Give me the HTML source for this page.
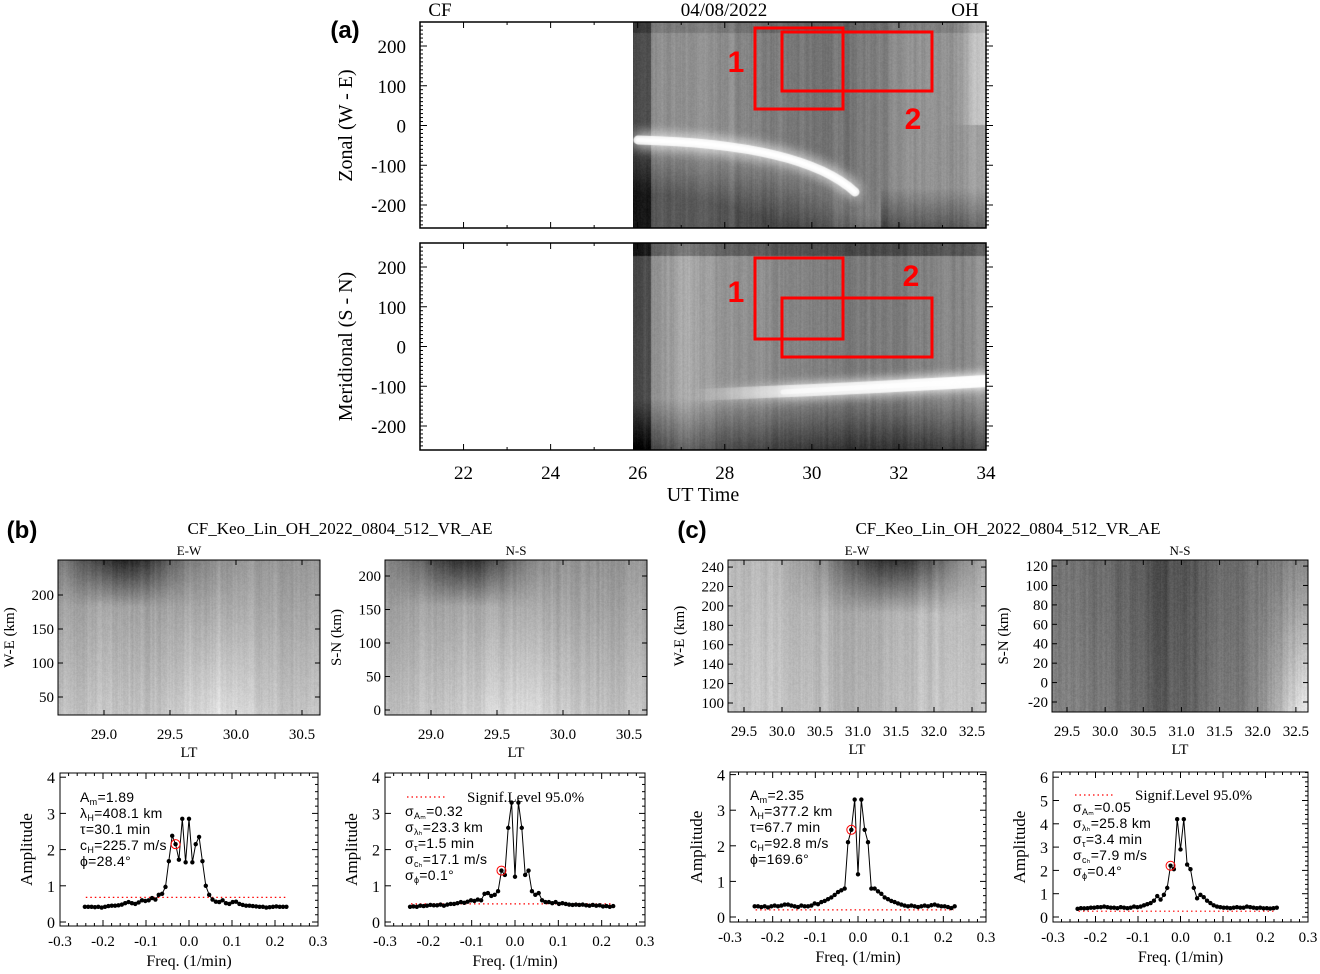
<!DOCTYPE html>
<html><head><meta charset="utf-8">
<style>
html,body{margin:0;padding:0;background:#fff;}
#wrap{position:relative;width:1320px;height:974px;overflow:hidden;}
canvas{position:absolute;}
svg{position:absolute;left:0;top:0;}
text{font-family:"Liberation Serif",serif;fill:#000;}
.sans{font-family:"Liberation Sans",sans-serif;}
</style></head>
<body>
<div id="wrap">
<canvas id="ka" width="353" height="206" style="left:633px;top:22px"></canvas>
<canvas id="kb" width="353" height="207" style="left:633px;top:243px"></canvas>
<canvas id="k1" width="262" height="155" style="left:58px;top:560px"></canvas>
<canvas id="k2" width="262" height="155" style="left:385px;top:560px"></canvas>
<canvas id="k3" width="258" height="152" style="left:728px;top:560px"></canvas>
<canvas id="k4" width="256" height="152" style="left:1052px;top:560px"></canvas>
<svg id="svg" width="1320" height="974" xmlns="http://www.w3.org/2000/svg"></svg>
</div>
<script>
// ---- spectrum data (freq grid k/128, k=-31..29) ----
const freqK = [];
for (let k = -31; k <= 29; k++) freqK.push(k);
const ampBLeft = [0.42,0.42,0.42,0.41,0.42,0.40,0.42,0.44,0.45,0.45,0.46,0.48,0.52,0.55,0.52,0.50,0.54,0.60,0.58,0.60,0.66,0.62,0.75,0.78,0.97,
 1.68,2.38,2.15,1.72,2.85,1.65,2.85,1.65,2.15,2.35,1.68,1.0,0.75,
 0.62,0.56,0.55,0.60,0.52,0.50,0.55,0.56,0.50,0.47,0.45,0.45,0.44,0.43,0.42,0.42,0.40,0.41,0.42,0.43,0.42,0.42,0.42];
const ampBRight = [0.42,0.43,0.42,0.45,0.44,0.45,0.47,0.46,0.46,0.48,0.45,0.48,0.50,0.50,0.52,0.55,0.53,0.56,0.60,0.58,0.62,0.60,0.78,0.80,0.72,0.75,
 0.85,1.42,1.30,2.60,3.30,1.25,3.30,2.60,1.30,1.42,0.85,
 0.75,0.80,0.60,0.55,0.55,0.52,0.55,0.50,0.52,0.50,0.48,0.47,0.48,0.47,0.48,0.46,0.45,0.47,0.45,0.46,0.43,0.44,0.42,0.44];
const ampCLeft = [0.3,0.3,0.28,0.3,0.27,0.3,0.32,0.3,0.32,0.35,0.35,0.32,0.3,0.28,0.32,0.3,0.3,0.32,0.38,0.36,0.42,0.45,0.5,0.55,0.62,0.7,0.75,
 0.8,2.1,2.45,3.3,1.2,3.3,2.45,2.1,0.8,
 0.8,0.72,0.65,0.55,0.5,0.45,0.42,0.38,0.35,0.32,0.3,0.32,0.3,0.28,0.3,0.32,0.3,0.33,0.35,0.32,0.3,0.3,0.28,0.25,0.3];
const ampCRight = [0.35,0.38,0.37,0.38,0.4,0.4,0.42,0.42,0.45,0.42,0.4,0.4,0.38,0.42,0.4,0.38,0.4,0.45,0.42,0.45,0.5,0.55,0.6,0.7,0.9,0.75,0.95,
 1.25,2.2,2.05,4.2,2.9,4.2,2.25,2.05,1.25,
 0.8,0.95,0.85,0.7,0.6,0.5,0.45,0.42,0.4,0.4,0.38,0.4,0.42,0.4,0.4,0.45,0.42,0.4,0.38,0.4,0.37,0.38,0.36,0.38,0.4];
const sigLevels = [0.68, 0.5, 0.2, 0.25];
const freqTicks = [-0.3,-0.2,-0.1,0.0,0.1,0.2,0.3];
const freqTickLabels = ["-0.3","-0.2","-0.1","0.0","0.1","0.2","0.3"];

const NS = "http://www.w3.org/2000/svg";
const svg = document.getElementById('svg');
function el(tag, attrs, parent, txt) {
  const e = document.createElementNS(NS, tag);
  for (const k in attrs) e.setAttribute(k, attrs[k]);
  if (txt !== undefined) e.textContent = txt;
  (parent || svg).appendChild(e);
  return e;
}
function txt(x, y, s, size, anchor, name, extra) {
  const t = el('text', Object.assign({x: x, y: y, 'font-size': size, 'text-anchor': anchor || 'middle'}, extra || {}), svg, s);
  
  
  return t;
}

// ---------- Panel (a) ----------
const hrTicks = [22,24,26,28,30,32,34];
const kmTicks = [200,100,0,-100,-200];
function ax(h) { return 420 + (h - 21) * (566 / 13); }
function panelA(top, bot, zeroY, label, name) {
  const g = el('g', {});
  
  
  const sc = 0.3975;
  el('rect', {x: 420, y: top, width: 566, height: bot - top, fill: 'none', stroke: '#000', 'stroke-width': 1.5}, g);
  for (let h = 21; h <= 34; h += 1) {
    const x = ax(h), big = (h % 2 === 0) ? 6 : 3;
    el('line', {x1: x, y1: bot, x2: x, y2: bot - big, stroke: '#000'}, g);
    el('line', {x1: x, y1: top, x2: x, y2: top + big, stroke: '#000'}, g);
  }
  for (let v = -250; v <= 250; v += 10) {
    const y = zeroY - v * sc;
    if (y < top || y > bot) continue;
    const big = v % 100 === 0 ? 7 : 3;
    el('line', {x1: 420, y1: y, x2: 420 + big, y2: y, stroke: '#000'}, g);
    el('line', {x1: 986, y1: y, x2: 986 + big, y2: y, stroke: '#000'}, g);
  }
  kmTicks.forEach(v => {
    txt(406, zeroY - v * sc + 7, String(v), 19, 'end', 'y-tick-label');
  });
  txt(0, 0, label, 20, 'middle', 'y-axis-title', {transform: 'translate(352,' + zeroY + ') rotate(-90)'});
}
panelA(22, 228, 125.5, 'Zonal (W - E)', 'zonal-panel');
panelA(243, 450, 346.5, 'Meridional (S - N)', 'meridional-panel');
hrTicks.forEach((h, i) => txt(ax(h), 479, String(h), 19, 'middle', 'x-tick-label'));
txt(703, 501, 'UT Time', 20, 'middle', 'x-axis-title');
txt(440, 16, 'CF', 19, 'middle', 'header-cf');
txt(724, 16, '04/08/2022', 19, 'middle', 'header-date');
txt(965, 16, 'OH', 19, 'middle', 'header-oh');
txt(345, 38, '(a)', 24, 'middle', 'panel-label-a', {'font-weight': 'bold', 'class': 'sans'});
txt(22, 538, '(b)', 24, 'middle', 'panel-label-b', {'font-weight': 'bold', 'class': 'sans'});
txt(692, 538, '(c)', 24, 'middle', 'panel-label-c', {'font-weight': 'bold', 'class': 'sans'});

function rbox(x, y, w, h, name) {
  const r = el('rect', {x: x, y: y, width: w, height: h, fill: 'none', stroke: '#f00', 'stroke-width': 3});
  
  
}
rbox(755, 28, 88, 81, 'region-box-1-zonal');
rbox(782, 32, 150, 59, 'region-box-2-zonal');
rbox(755, 258, 88, 81, 'region-box-1-meridional');
rbox(782, 298, 150, 59, 'region-box-2-meridional');
[[736,72,'1'],[913,129,'2'],[736,302,'1'],[911,286,'2']].forEach(a => {
  txt(a[0], a[1], a[2], 30, 'middle', 'region-label', {'class': 'sans', 'font-weight': 'bold', style: 'fill:#f00'});
});

// ---------- keogram axes ----------
function keoAxes(x0, y0, x1, y1, xt, xl, x2px, yt, y2px, ylab, top, name) {
  const g = el('g', {});
  
  
  el('rect', {x: x0, y: y0, width: x1 - x0, height: y1 - y0, fill: 'none', stroke: '#000', 'stroke-width': 1}, g);
  xt.forEach((v, i) => {
    const x = x2px(v);
    el('line', {x1: x, y1: y1, x2: x, y2: y1 - 5, stroke: '#000'}, g);
    el('line', {x1: x, y1: y0, x2: x, y2: y0 + 5, stroke: '#000'}, g);
    txt(x, y1 + 24, xl[i], 15, 'middle', 'x-tick-label');
  });
  yt.forEach(v => {
    const y = y2px(v);
    el('line', {x1: x0, y1: y, x2: x0 + 5, y2: y, stroke: '#000'}, g);
    el('line', {x1: x1, y1: y, x2: x1 - 5, y2: y, stroke: '#000'}, g);
    txt(x0 - 4, y + 5, String(v), 15, 'end', 'y-tick-label');
  });
  txt((x0 + x1) / 2, y1 + 42, 'LT', 15, 'middle', 'x-axis-title');
  txt((x0 + x1) / 2, y0 - 5, top, 13, 'middle', 'keogram-title');
  txt(0, 0, ylab, 15, 'middle', 'y-axis-title', {transform: 'translate(' + (x0 - 44) + ',' + ((y0 + y1) / 2) + ') rotate(-90)'});
}
const ltB = [29.0, 29.5, 30.0, 30.5], ltBL = ['29.0','29.5','30.0','30.5'];
const ltC = [29.5,30.0,30.5,31.0,31.5,32.0,32.5], ltCL = ['29.5','30.0','30.5','31.0','31.5','32.0','32.5'];
keoAxes(58, 560, 320, 715, ltB, ltBL, v => 104 + (v - 29) * 132, [200,150,100,50], v => 663 - (v - 100) * 0.68, 'W-E (km)', 'E-W', 'keo-b-ew');
keoAxes(385, 560, 647, 715, ltB, ltBL, v => 431 + (v - 29) * 132, [200,150,100,50,0], v => 710 - v * 0.67, 'S-N (km)', 'N-S', 'keo-b-ns');
keoAxes(728, 560, 986, 712, ltC, ltCL, v => 744 + (v - 29.5) * 76, [240,220,200,180,160,140,120,100], v => 703 - (v - 100) * 0.971, 'W-E (km)', 'E-W', 'keo-c-ew');
keoAxes(1052, 560, 1308, 712, ltC, ltCL, v => 1067 + (v - 29.5) * 76.3, [120,100,80,60,40,20,0,-20], v => 702 - (v + 20) * 0.971, 'S-N (km)', 'N-S', 'keo-c-ns');
txt(340, 534, 'CF_Keo_Lin_OH_2022_0804_512_VR_AE', 17, 'middle', 'title-b');
txt(1008, 534, 'CF_Keo_Lin_OH_2022_0804_512_VR_AE', 17, 'middle', 'title-c');

// ---------- spectrum plots ----------
function spectrum(cfg) {
  const g = el('g', {});
  
  
  const fx = f => cfg.x0 + (f + 0.3) / 0.6 * (cfg.x1 - cfg.x0);
  const fy = a => cfg.zeroY - a * cfg.pxPerUnit;
  el('rect', {x: cfg.x0, y: cfg.y0, width: cfg.x1 - cfg.x0, height: cfg.y1 - cfg.y0, fill: 'none', stroke: '#000', 'stroke-width': 1}, g);
  for (let f = -0.3; f <= 0.301; f += 0.02) {
    const x = fx(f), big = Math.abs(Math.round(f * 100)) % 10 === 0 ? 6 : 3;
    el('line', {x1: x, y1: cfg.y1, x2: x, y2: cfg.y1 - big, stroke: '#000'}, g);
    el('line', {x1: x, y1: cfg.y0, x2: x, y2: cfg.y0 + big, stroke: '#000'}, g);
  }
  freqTicks.forEach((f, i) => txt(fx(f), cfg.y1 + 20, freqTickLabels[i], 15, 'middle', 'x-tick-label'));
  for (let v = 0; v <= cfg.ymax; v++) {
    const y = fy(v);
    el('line', {x1: cfg.x0, y1: y, x2: cfg.x0 + 6, y2: y, stroke: '#000'}, g);
    el('line', {x1: cfg.x1, y1: y, x2: cfg.x1 - 6, y2: y, stroke: '#000'}, g);
    for (let m = 0.2; m < 1; m += 0.2) {
      const ym = fy(v + m);
      if (ym < cfg.y0) break;
      el('line', {x1: cfg.x1, y1: ym, x2: cfg.x1 - 3, y2: ym, stroke: '#000'}, g);
    }
    txt(cfg.x0 - 5, y + 6, String(v), 16, 'end', 'y-tick-label');
  }
  txt(fx(0), cfg.y1 + 40, 'Freq. (1/min)', 16, 'middle', 'x-axis-title');
  txt(0, 0, 'Amplitude', 17, 'middle', 'y-axis-title', {transform: 'translate(' + (cfg.x0 - 28) + ',' + ((cfg.y0 + cfg.y1) / 2) + ') rotate(-90)'});
  const sl = el('line', {x1: fx(-0.24), x2: fx(0.225), y1: fy(cfg.sig), y2: fy(cfg.sig), stroke: '#f00', 'stroke-width': 1.2, 'stroke-dasharray': '1.5,3'}, g);
  
  
  let d = '';
  cfg.amps.forEach((a, i) => { d += (i ? 'L' : 'M') + fx(freqK[i] / 128).toFixed(1) + ',' + fy(a).toFixed(1); });
  const ln = el('path', {d: d, fill: 'none', stroke: '#000', 'stroke-width': 1}, g);
  
  
  cfg.amps.forEach((a, i) => {
    const c = el('circle', {cx: fx(freqK[i] / 128), cy: fy(a), r: 2.2, fill: '#000'}, g);
    
    
  });
  const ci = cfg.circ;
  const rc = el('circle', {cx: fx(freqK[ci] / 128), cy: fy(cfg.amps[ci]), r: 4.5, fill: 'none', stroke: '#f00', 'stroke-width': 1}, g);
  
  
  if (cfg.legend) {
    const lg = el('line', {x1: cfg.x0 + 22, x2: cfg.x0 + 62, y1: cfg.legY, y2: cfg.legY, stroke: '#f00', 'stroke-width': 1.2, 'stroke-dasharray': '1.5,3'}, g);
    
    
    txt(cfg.x0 + 82, cfg.legY + 5, 'Signif.Level 95.0%', 15, 'start', 'legend-text');
  }
  cfg.lines.forEach((ln2, i) => {
    const t = el('text', {x: cfg.x0 + 20, y: cfg.textY + i * 16, 'font-size': 14, 'class': 'sans', 'letter-spacing': '0.3'}, svg);
    
    
    ln2.forEach(part => {
      el('tspan', part[1] ? {'font-size': 9, dy: 3} : {dy: part[2] || 0}, t, part[0]);
    });
  });
}
spectrum({name: 'spectrum-b-left', x0: 60, x1: 318, y0: 773, y1: 926, zeroY: 922, pxPerUnit: 36.2, ymax: 4, amps: ampBLeft, sig: sigLevels[0], circ: 27, legend: false, textY: 802,
  lines: [[['A'],['m',true],['=1.89',false,-3]], [['λ'],['H',true],['=408.1  km',false,-3]], [['τ=30.1  min']], [['c'],['H',true],['=225.7  m/s',false,-3]], [['ϕ=28.4°']]]});
spectrum({name: 'spectrum-b-right', x0: 385, x1: 645, y0: 773, y1: 926, zeroY: 922, pxPerUnit: 36.2, ymax: 4, amps: ampBRight, sig: sigLevels[1], circ: 27, legend: true, legY: 797, textY: 816,
  lines: [[['σ'],['Aₘ',true],['=0.32',false,-3]], [['σ'],['λₕ',true],['=23.3  km',false,-3]], [['σ'],['τ',true],['=1.5  min',false,-3]], [['σ'],['cₕ',true],['=17.1  m/s',false,-3]], [['σ'],['ϕ',true],['=0.1°',false,-3]]]});
spectrum({name: 'spectrum-c-left', x0: 730, x1: 986, y0: 772, y1: 922, zeroY: 917, pxPerUnit: 35.6, ymax: 4, amps: ampCLeft, sig: sigLevels[2], circ: 29, legend: false, textY: 800,
  lines: [[['A'],['m',true],['=2.35',false,-3]], [['λ'],['H',true],['=377.2  km',false,-3]], [['τ=67.7  min']], [['c'],['H',true],['=92.8  m/s',false,-3]], [['ϕ=169.6°']]]});
spectrum({name: 'spectrum-c-right', x0: 1053, x1: 1308, y0: 772, y1: 922, zeroY: 917, pxPerUnit: 23.3, ymax: 6, amps: ampCRight, sig: sigLevels[3], circ: 28, legend: true, legY: 795, textY: 812,
  lines: [[['σ'],['Aₘ',true],['=0.05',false,-3]], [['σ'],['λₕ',true],['=25.8  km',false,-3]], [['σ'],['τ',true],['=3.4  min',false,-3]], [['σ'],['cₕ',true],['=7.9  m/s',false,-3]], [['σ'],['ϕ',true],['=0.4°',false,-3]]]});

// ---------- keogram textures ----------
let seed = 7;
function rnd() { seed = (seed * 16807) % 2147483647; return seed / 2147483647; }
function texture(id, baseFn, colAmp, pixAmp) {
  const c = document.getElementById(id), ctx = c.getContext('2d');
  const w = c.width, h = c.height, img = ctx.createImageData(w, h);
  const col = []; let prev = 0;
  for (let x = 0; x < w; x++) { prev = prev * 0.6 + (rnd() - 0.5) * colAmp; col.push(prev); }
  for (let y = 0; y < h; y++) for (let x = 0; x < w; x++) {
    let v = baseFn(x / w, y / h) + col[x] + (rnd() - 0.5) * pixAmp;
    v = Math.max(0, Math.min(255, v));
    const i = (y * w + x) * 4;
    img.data[i] = img.data[i + 1] = img.data[i + 2] = v; img.data[i + 3] = 255;
  }
  ctx.putImageData(img, 0, 0);
  return ctx;
}
const G = (u, c, s) => Math.exp(-Math.pow((u - c) / s, 2));
let ctx = texture('ka', (u, v) => {
  let b = 130 + 15 * Math.sin(u * 9);
  if (u < 0.05) b = 75;
  // darker region under the arc
  const arcV = 0.58 + 0.35 * Math.pow(Math.min(u / 0.62, 1), 2);
  if (v > arcV && u < 0.7) b -= 55 * Math.min(1, (v - arcV) * 4);
  if (v > 0.8 && u >= 0.7) b -= 60 * (v - 0.8) / 0.2;
  b += 70 * G(u, 1.0, 0.06) * (v < 0.5 ? 1 : 0.4);
  if (v < 0.05) b -= 20;
  return b;
}, 14, 12);
ctx.strokeStyle = 'rgba(255,255,255,0.9)'; ctx.lineWidth = 9; ctx.shadowColor = '#fff'; ctx.shadowBlur = 14; ctx.lineCap = 'round';
ctx.beginPath(); ctx.moveTo(5, 118); ctx.quadraticCurveTo(170, 122, 222, 170); ctx.stroke();
ctx.lineWidth = 4;
ctx.beginPath(); ctx.moveTo(5, 118); ctx.quadraticCurveTo(170, 122, 222, 170); ctx.stroke();
ctx = texture('kb', (u, v) => {
  let b = 135 + 12 * Math.sin(u * 7);
  if (u < 0.05) b = 75;
  if (v > 0.75) b -= 75 * (v - 0.75) / 0.25;
  if (v < 0.06) b -= 50;
  b += 25 * G(u, 0.15, 0.06);
  return b;
}, 14, 12);
ctx.lineCap = 'round';
const grd = ctx.createLinearGradient(60, 0, 353, 0);
grd.addColorStop(0, 'rgba(255,255,255,0)'); grd.addColorStop(0.35, 'rgba(255,255,255,0.7)'); grd.addColorStop(1, 'rgba(255,255,255,1)');
ctx.strokeStyle = grd; ctx.lineWidth = 12; ctx.shadowColor = '#fff'; ctx.shadowBlur = 12;
ctx.beginPath(); ctx.moveTo(60, 152); ctx.quadraticCurveTo(220, 146, 353, 138); ctx.stroke();
ctx.lineWidth = 5;
ctx.beginPath(); ctx.moveTo(150, 149); ctx.quadraticCurveTo(250, 143, 353, 138); ctx.stroke();
texture('k1', (u, v) => 150 + 45 * v - 110 * Math.max(0, 0.3 - v) / 0.3 * G(u, 0.25, 0.2) + 30 * G(u, 0.6, 0.15) * v, 14, 14);
texture('k2', (u, v) => 150 + 45 * v - 100 * Math.max(0, 0.3 - v) / 0.3 * G(u, 0.3, 0.2) + 25 * G(u, 0.5, 0.2) * v, 14, 14);
texture('k3', (u, v) => 185 - 120 * Math.max(0, 0.35 - v) / 0.35 * G(u, 0.65, 0.25) - 20 * G(u, 0.5, 0.2) + 15 * v, 14, 14);
texture('k4', (u, v) => 115 - 35 * G(u, 0.45, 0.2) + 100 * Math.max(0, u - 0.78) * 4 * (0.3 + v) + 15 * v, 16, 16);
</script>
</body></html>
